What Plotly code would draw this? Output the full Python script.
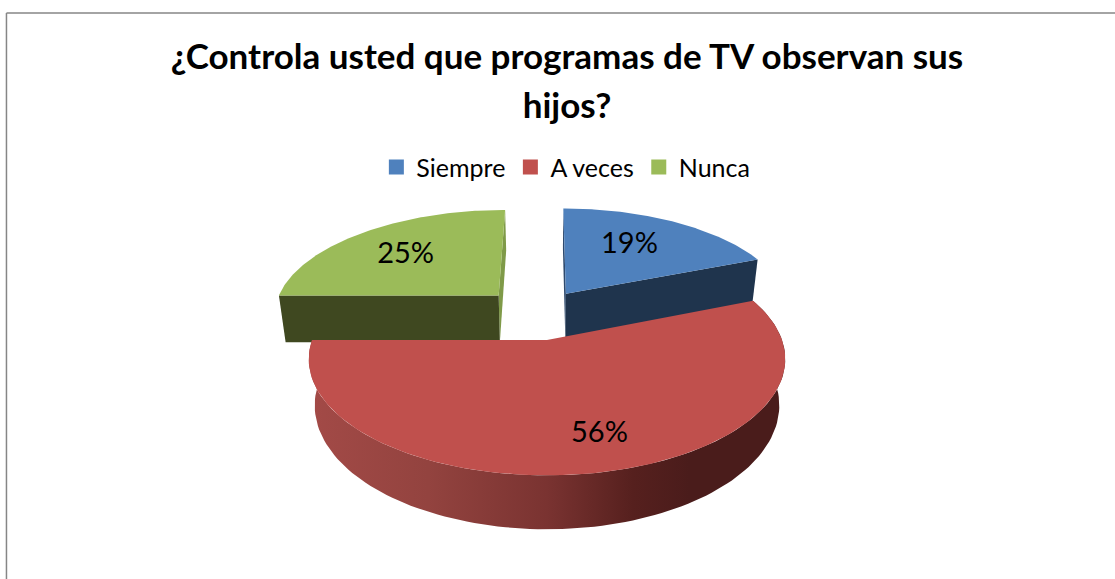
import numpy as np
import plotly.graph_objects as go

# Data
categories = ["Siempre", "A veces", "Nunca"]
percentages = [19, 56, 25]

TITLE_LINES = ["¿Controla usted que programas de TV observan sus", "hijos?"]
FONT = "Lato, 'Open Sans', sans-serif"

top_colors = ["#4f81bd", "#c0504d", "#9bbb59"]
face_colors = ["#1f344d", None, "#3f4820"]
slim_colors = ["#2e4a6e", None, "#7f9a48"]
pull = [(0.086, 0.44), (0.0, 0.0), (-0.22, 0.421)]
depth = [50.0, 45.0, 50.0]
label_radius = [0.70, 0.73, 0.68]
label_nudge = [(-14, 4), (16, 3), (2, 4)]

# Projection of the pie disc on the page
X0, Y0 = 547.0, 340.0
A, B, K = 235.0, 113.0, 0.165
SHRINK = 0.975


def project(u, v, drop=None):
    u, v = np.asarray(u, float), np.asarray(v, float)
    w = 1 + K * v
    x = A * u / w
    y = Y0 - B * v / w
    if drop is not None:
        return X0 + x * SHRINK, y + drop / w
    return X0 + x, y


def rim(start, stop, off, n=120):
    t = np.radians(np.linspace(start, stop, n))
    return off[0] + np.sin(t), off[1] + np.cos(t)


def poly(x, y, color=None, gradient=None):
    return go.Scatter(
        x=list(x), y=list(y), mode="lines", fill="toself",
        fillcolor=color, fillgradient=gradient,
        line=dict(width=0, color="rgba(0,0,0,0)"),
        showlegend=False, hoverinfo="skip",
    )


def flat_face(angle, off, drop, color):
    u, v = rim(angle, angle, off, 1)
    x1, y1 = project([off[0], u[0]], [off[1], v[0]])
    x2, y2 = project([off[0], u[0]], [off[1], v[0]], drop)
    return poly(np.r_[x1, x2[::-1]], np.r_[y1, y2[::-1]], color)


fig = go.Figure()

edges = np.cumsum([0] + percentages) * 3.6
spans = [(edges[i], edges[i + 1]) for i in range(len(percentages))]

# Draw the two back slices first, the front slice last
for i in (0, 2):
    a, b = spans[i]
    off = pull[i]
    fig.add_trace(flat_face(0.0, off, depth[i], slim_colors[i]))
    fig.add_trace(flat_face(b if i == 0 else a, off, depth[i], face_colors[i]))
    u, v = rim(a, b, off)
    x, y = project(np.r_[off[0], u], np.r_[off[1], v])
    fig.add_trace(poly(x, y, top_colors[i]))

a, b = spans[1]
off = pull[1]
u, v = rim(a, b, off)
xt, yt = project(u, v)
xb, yb = project(u, v, depth[1])
side_gradient = dict(
    type="horizontal",
    colorscale=[[0, "#a34a47"], [0.25, "#93433f"], [0.5, "#7a3331"],
                [0.68, "#56201e"], [0.8, "#4a1c1b"], [1, "#4a1c1b"]],
)
fig.add_trace(poly(np.r_[xt, xb[::-1]], np.r_[yt, yb[::-1]], gradient=side_gradient))
x, y = project(np.r_[off[0], u], np.r_[off[1], v])
fig.add_trace(poly(x, y, top_colors[1]))

# Data labels
for i, pct in enumerate(percentages):
    mid = np.radians(sum(spans[i]) / 2)
    lu = pull[i][0] + label_radius[i] * np.sin(mid)
    lv = pull[i][1] + label_radius[i] * np.cos(mid)
    lx, ly = project(lu, lv)
    fig.add_trace(go.Scatter(
        x=[float(lx) + label_nudge[i][0]], y=[float(ly) + label_nudge[i][1]],
        mode="text", text=[f"{pct}%"], textposition="middle center",
        textfont=dict(family=FONT, size=29, color="#000000"),
        showlegend=False, hoverinfo="skip",
    ))

# Legend
for name, color in zip(categories, top_colors):
    fig.add_trace(go.Scatter(
        x=[None], y=[None], mode="markers", name=name,
        marker=dict(symbol="square", size=15, color=color),
    ))

title_html = "<br>".join(
    f'<span style="font-size:35px"><b>{line}</b></span>' for line in TITLE_LINES
)

fig.update_layout(
    width=1115, height=579, autosize=False,
    margin=dict(l=0, r=0, t=0, b=0),
    paper_bgcolor="#ffffff", plot_bgcolor="#ffffff",
    title=dict(
        text=title_html, x=0.5085, xanchor="center", y=0.88, yanchor="middle",
        font=dict(family=FONT, size=37.7, color="#000000"),
    ),
    legend=dict(
        orientation="h", x=0.5075, xanchor="center", y=0.711, yanchor="middle",
        font=dict(family=FONT, size=25, color="#000000"),
        bgcolor="rgba(0,0,0,0)", itemwidth=30,
    ),
    xaxis=dict(range=[0, 1115], visible=False, fixedrange=True),
    yaxis=dict(range=[579, 0], visible=False, fixedrange=True),
    shapes=[
        dict(type="line", xref="paper", yref="paper", x0=0.0058, x1=1, y0=0.9775, y1=0.9775,
             line=dict(color="#868686", width=1.5)),
        dict(type="line", xref="paper", yref="paper", x0=0.0058, x1=0.0058, y0=0, y1=0.9775,
             line=dict(color="#868686", width=1.5)),
    ],
)

fig.write_html(
    "out.html",
    config={"displayModeBar": False},
    post_script="document.body.style.margin='0';document.documentElement.style.overflow='hidden';",
)
